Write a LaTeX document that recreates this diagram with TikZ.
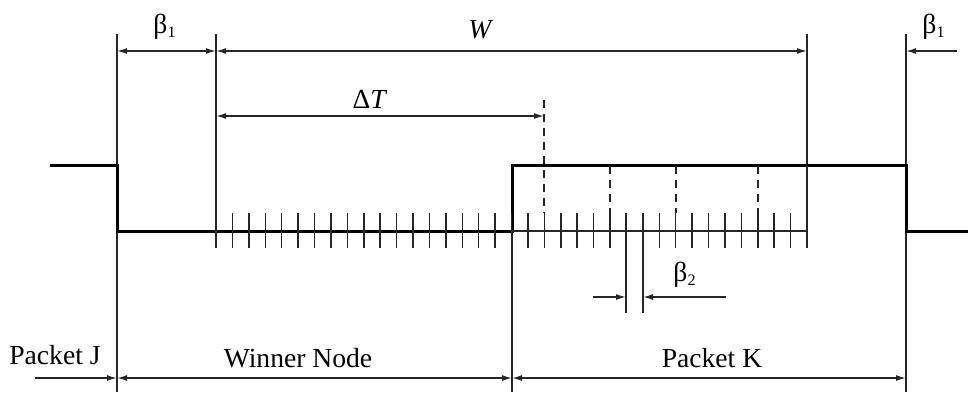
\documentclass[tikz,border=0pt]{standalone}
\usepackage{fontspec}
\setmainfont{Liberation Serif}
\usetikzlibrary{arrows.meta}

\begin{document}
\begin{tikzpicture}[
  x=0.5pt, y=-0.5pt,
  every node/.style={font=\fontsize{13.8}{16}\selectfont,inner sep=0pt},
  signal/.style={line width=1.5pt,line join=miter},
  guide/.style={line width=0.75pt,black!85},
  tick/.style={line width=0.75pt,black!85},
  dashguide/.style={line width=0.75pt,black!85,dash pattern=on 4pt off 3pt},
  dim/.style={line width=0.75pt,black!85},
  lab/.style={anchor=base},
  >={Latex[length=5pt,width=3pt]}
]
\useasboundingbox (0,0) rectangle (968,392);

\coordinate (jTop) at (117,34);
\coordinate (jBot) at (117,392);
\coordinate (wTop) at (216,34);
\coordinate (wBot) at (216,248);
\coordinate (eTop) at (807,34);
\coordinate (eBot) at (807,248);
\coordinate (kTop) at (906,34);
\coordinate (kBot) at (906,392);
\coordinate (rise) at (512,165);
\coordinate (riseBot) at (512,392);

\draw[guide] (jTop) -- (jBot);
\draw[guide] (wTop) -- (wBot);
\draw[guide] (eTop) -- (eBot);
\draw[guide] (kTop) -- (kBot);
\draw[guide] (rise) -- (riseBot);

\draw[signal] (50,165) -- (117,165) -- (117,231) -- (512,231) -- (rise)
  -- (906,165) -- (906,231) -- (968,231);
\draw[guide] (512,231) -- (807,231);

\foreach \k in {0,...,36}
  \draw[tick] ({216+16.417*\k},213) -- ++(0,35);

\coordinate (dtEnd) at (544,116);
\draw[dashguide] (544,100) -- (544,213);
\foreach \xd in {610,676,758,807}
  \draw[dashguide] (\xd,166) -- (\xd,213);

\coordinate (b1a) at (117,51);
\coordinate (b1b) at (216,51);
\coordinate (wEnd) at (807,51);
\coordinate (b1c) at (906,51);
\coordinate (b1d) at (957,51);
\draw[<->,dim] (b1a) -- (b1b);
\draw[<->,dim] (b1b) -- (wEnd);
\draw[->,dim] (b1d) -- (b1c);
\draw[<->,dim] (216,116) -- (dtEnd);

\node[lab] (beta1L) at (165,33) {β\textsubscript{\footnotesize 1}};
\node[lab] (wLab) at (481,38) {\textit{W}};
\node[lab] (beta1R) at (934,33) {β\textsubscript{\footnotesize 1}};
\node[lab] (dtLab) at (370,108) {Δ\textit{T}};

\coordinate (s1Top) at (626,213);
\coordinate (s1Bot) at (626,313);
\coordinate (s2Top) at (643,213);
\coordinate (s2Bot) at (643,313);
\draw[guide] (s1Top) -- (s1Bot);
\draw[guide] (s2Top) -- (s2Bot);
\draw[->,dim] (593,297) -- (626,297);
\draw[->,dim] (726,297) -- (643,297);
\node[lab] (beta2) at (685,281) {β\textsubscript{\footnotesize 2}};

\coordinate (pjStart) at (35,378);
\coordinate (pjEnd) at (117,378);
\coordinate (wnEnd) at (512,378);
\coordinate (pkEnd) at (906,378);
\draw[->,dim] (pjStart) -- (pjEnd);
\draw[<->,dim] (pjEnd) -- (wnEnd);
\draw[<->,dim] (wnEnd) -- (pkEnd);

\node[lab] (packJ) at (55,364) {Packet J};
\node[lab] (winner) at (298,367) {Winner Node};
\node[lab] (packK) at (712,367) {Packet K};

\end{tikzpicture}
\end{document}
